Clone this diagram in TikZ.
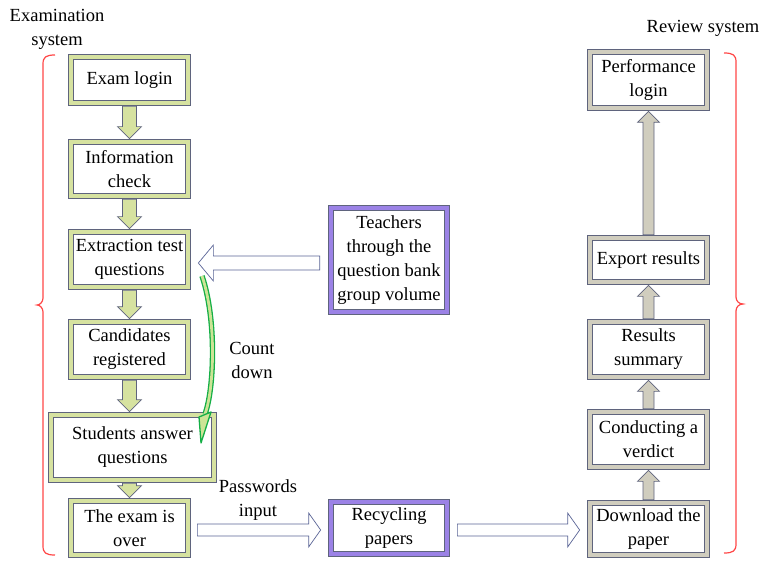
\documentclass[tikz,border=0pt]{standalone}
\usepackage{fontspec}
\setmainfont{Liberation Serif}
\usetikzlibrary{arrows,positioning,calc}

\definecolor{bordgray}{RGB}{95,100,125}
\definecolor{greenband}{RGB}{214,226,160}
\definecolor{grayband}{RGB}{208,205,190}
\definecolor{purpleband}{RGB}{155,130,230}
\definecolor{bracered}{RGB}{255,70,70}
\definecolor{hollowblue}{RGB}{90,100,150}
\definecolor{cdgreen}{RGB}{20,175,70}
\definecolor{cdfill}{RGB}{205,228,150}

\newcommand{\boxfont}{\fontsize{18.5}{24}\selectfont}

\tikzset{
  box/.style={draw=bordgray, line width=0.7pt, double distance=4.5pt, fill=white,
    minimum width=117pt, align=center, inner sep=0pt, font=\boxfont},
  exambox/.style={box, double=greenband},
  reviewbox/.style={box, double=grayband},
  teacherbox/.style={box, double=purpleband},
  label/.style={align=center, font=\boxfont},
  greenarrow/.style={draw=bordgray, fill=greenband, line width=0.7pt},
  grayarrow/.style={draw=bordgray, fill=grayband, line width=0.7pt},
  hollowarrow/.style={draw=hollowblue, fill=white, line width=0.7pt},
  bracepath/.style={draw=bracered, line width=1.2pt},
  countdown/.style={draw=cdgreen, line width=1.3pt, double=cdfill, double distance=2.8pt},
  cdhead/.style={draw=cdgreen, fill=cdfill, line width=1.3pt, line join=round}
}

% block arrows between nodes
\newcommand{\downblock}[2]{\draw[greenarrow] let \p1=(#1), \p2=(#2) in
  ({\x1-7pt},\y1) -- ({\x1-7pt},{\y2+12pt}) -- ({\x1-12pt},{\y2+12pt}) -- (\x1,\y2)
  -- ({\x1+12pt},{\y2+12pt}) -- ({\x1+7pt},{\y2+12pt}) -- ({\x1+7pt},\y1) -- cycle;}
\newcommand{\upblock}[2]{\draw[grayarrow] let \p1=(#1), \p2=(#2) in
  ({\x1-5.5pt},\y1) -- ({\x1-5.5pt},{\y2-11pt}) -- ({\x1-11pt},{\y2-11pt}) -- (\x1,\y2)
  -- ({\x1+11pt},{\y2-11pt}) -- ({\x1+5.5pt},{\y2-11pt}) -- ({\x1+5.5pt},\y1) -- cycle;}
\newcommand{\rightblock}[2]{\draw[hollowarrow] let \p1=(#1), \p2=(#2) in
  (\x1,{\y1+6pt}) -- ({\x2-12pt},{\y1+6pt}) -- ({\x2-12pt},{\y1+17pt}) -- (\x2,\y1)
  -- ({\x2-12pt},{\y1-17pt}) -- ({\x2-12pt},{\y1-6pt}) -- (\x1,{\y1-6pt}) -- cycle;}
\newcommand{\leftblock}[2]{\draw[hollowarrow] let \p1=(#1), \p2=(#2) in
  (\x1,{\y1+7pt}) -- ({\x2+15pt},{\y1+7pt}) -- ({\x2+15pt},{\y1+18pt}) -- (\x2,\y1)
  -- ({\x2+15pt},{\y1-18pt}) -- ({\x2+15pt},{\y1-7pt}) -- (\x1,{\y1-7pt}) -- cycle;}

\begin{document}
\begin{tikzpicture}[x=1pt,y=-1pt]
\useasboundingbox (0,0) rectangle (762,561);

% titles
\node[label] (examtitle) at (57,29) {Examination\\system};
\node[label] (reviewtitle) at (703,28) {Review system};

% examination system
\node[exambox, minimum height=46pt] (login) at (129.5,80) {Exam login};
\node[exambox, minimum height=54pt] (check) at (129.5,169) {Information\\check};
\node[exambox, minimum height=55pt] (extract) at (129.5,259.5) {Extraction test\\questions};
\node[exambox, minimum height=55pt] (register) at (129.5,349.5) {Candidates\\registered};
\node[exambox, minimum width=163pt, minimum height=65pt] (answer) at (132.5,447.5) {Students answer\\questions};
\node[exambox, minimum height=54pt] (over) at (129.5,528) {The exam is\\over};

% teachers and papers
\node[teacherbox, minimum width=116pt, minimum height=104pt] (teachers) at (389,260) {Teachers\\through the\\question bank\\group volume};
\node[teacherbox, minimum width=116pt, minimum height=52pt] (recycle) at (389,528) {Recycling\\papers};

% review system
\node[reviewbox, minimum height=56pt] (perflogin) at (648.5,80) {Performance\\login};
\node[reviewbox, minimum height=44pt] (export) at (648.5,260) {Export results};
\node[reviewbox, minimum height=55pt] (summary) at (648.5,349.5) {Results\\summary};
\node[reviewbox, minimum height=55pt] (verdict) at (648.5,439.5) {Conducting a\\verdict};
\node[reviewbox, minimum height=52pt] (download) at (648.5,529) {Download the\\paper};

\node[label] (countlabel) at (252,360) {Count\\down};
\node[label] (pwlabel) at (258,500) {Passwords\\input};

% arrows
\downblock{[yshift=-3pt]login.south}{[yshift=3pt]check.north}
\downblock{[yshift=-3pt]check.south}{[yshift=3pt]extract.north}
\downblock{[yshift=-3pt]extract.south}{[yshift=3pt]register.north}
\downblock{[yshift=-3pt]register.south}{[yshift=3pt]answer.north -| register.south}
\downblock{[yshift=-3pt]answer.south -| over.north}{[yshift=3pt]over.north}

\upblock{[yshift=3pt]download.north}{[yshift=-3pt]verdict.south}
\upblock{[yshift=3pt]verdict.north}{[yshift=-3pt]summary.south}
\upblock{[yshift=3pt]summary.north}{[yshift=-3pt]export.south}
\upblock{[yshift=3pt]export.north}{[yshift=-3pt]perflogin.south}

\leftblock{[xshift=-11pt,yshift=-3pt]teachers.west}{[xshift=10pt]extract.east}
\rightblock{[xshift=9pt,yshift=-2pt]over.east}{[xshift=-10pt]recycle.west}
\rightblock{[xshift=10pt,yshift=-2pt]recycle.east}{[xshift=-10pt]download.west}

% count down arrow
\coordinate (cdtop) at (202,276);
\coordinate (cdtip) at (201,443);
\draw[countdown] (cdtop) .. controls (217,320) and (214,390) .. (205,414);
\filldraw[cdhead] (199,417) -- (cdtip) -- (211,412) -- cycle;

% braces
\draw[bracepath] (55,55) .. controls (46,55) and (43,57) .. (43,64) -- (43,298)
  .. controls (43,302) and (40,305) .. (37,305) .. controls (40,305) and (43,308) .. (43,312)
  -- (43,546) .. controls (43,553) and (46,555) .. (55,555);
\draw[bracepath] (724,53) .. controls (733,53) and (736,55) .. (736,62) -- (736,297)
  .. controls (736,301) and (739,304) .. (743,304) .. controls (739,304) and (736,307) .. (736,311)
  -- (736,544) .. controls (736,551) and (733,553) .. (724,553);
\end{tikzpicture}
\end{document}
